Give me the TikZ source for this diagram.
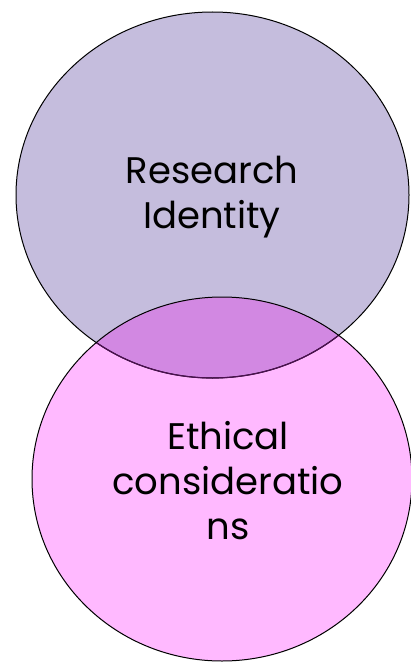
\documentclass[tikz,border=0pt]{standalone}
\usepackage{fontspec}
\setmainfont{Poppins}
\definecolor{topfill}{RGB}{197,189,221}
\definecolor{botfill}{RGB}{255,185,255}
\definecolor{overfill}{RGB}{210,136,226}
\definecolor{overline}{RGB}{75,16,80}
\begin{document}
\begin{tikzpicture}[x=1pt,y=-1pt,
  lbl/.style={align=center,font=\fontsize{37}{45}\selectfont,text=black,inner sep=0pt}]
\useasboundingbox (0,0) rectangle (410,663);
\path[fill=topfill] (212.5,195) ellipse [x radius=196.5, y radius=183];
\path[fill=botfill] (222,479) ellipse [x radius=190, y radius=182];
\begin{scope}
\clip (222,479) ellipse [x radius=190, y radius=182];
\path[fill=overfill] (212.5,195) ellipse [x radius=196.5, y radius=183];
\end{scope}
\draw[line width=1pt] (212.5,195) ellipse [x radius=196.5, y radius=183];
\begin{scope}
\clip (222,479) ellipse [x radius=190, y radius=182];
\draw[line width=1.2pt,overline] (212.5,195) ellipse [x radius=196.5, y radius=183];
\end{scope}
\draw[line width=1pt] (222,479) ellipse [x radius=190, y radius=182];
\node[lbl] (ri) at (212,197) {Research\\Identity};
\node[lbl] (ec) at (228,481) {Ethical\\consideratio\\ns};
\end{tikzpicture}
\end{document}
